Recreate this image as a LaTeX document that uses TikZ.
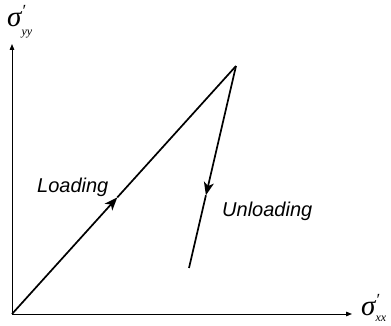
\documentclass[tikz,border=0pt]{standalone}
\usepackage{fontspec}
\setmainfont{Liberation Sans}
\newfontfamily\sigfont{Liberation Serif}
\usetikzlibrary{arrows.meta,calc}

\begin{document}
\begin{tikzpicture}[
  x=1pt, y=1pt,
  %% axis lines with small filled tips
  axis/.style={-{Triangle[length=6pt,width=4.6pt]}, line width=0.9pt},
  %% loading / unloading path, and the part that carries its head
  line/.style={line width=1.7pt},
  arr/.style={line, -{Stealth[length=13pt,width=10pt,inset=3.5pt]}},
  %% text labels
  lbl/.style={font=\fontsize{20}{20}\selectfont\itshape, inner sep=0pt, anchor=base west},
  sig/.style={font=\fontsize{29}{29}\sigfont\itshape, inner sep=0pt, anchor=base west},
]
\useasboundingbox (0,0) rectangle (391,326);

%%── Key points ───────────────────────────────────────────────────────────────
\coordinate (O)  at (12,12);
\coordinate (yt) at (12,282);
\coordinate (xt) at (352,12);
\coordinate (P)  at (236,260);
\coordinate (E)  at (189,58);
\coordinate (Lm) at ($(O)!0.47!(P)$);
\coordinate (Um) at ($(P)!0.64!(E)$);

%%── Axes ─────────────────────────────────────────────────────────────────────
\draw[axis] (O) -- (yt);
\draw[axis] (O) -- (xt);

\node[sig] (syy) at (7,299)
  {σ\rlap{\raisebox{0.36em}{\fontsize{17}{17}\selectfont ′}}%
   \raisebox{-0.28em}{\fontsize{12}{12}\selectfont yy}};
\node[sig] (sxx) at (361,10)
  {σ\rlap{\raisebox{0.36em}{\fontsize{17}{17}\selectfont ′}}%
   \raisebox{-0.18em}{\fontsize{12}{12}\selectfont xx}};

%%── Loading and unloading paths ──────────────────────────────────────────────
\draw[arr]  (O)  -- (Lm);
\draw[line] (Lm) -- (P);
\draw[arr]  (P)  -- (Um);
\draw[line] (Um) -- (E);

\node[lbl] (load)   at (37,133)  {Loading};
\node[lbl] (unload) at (222,109) {Unloading};

\end{tikzpicture}
\end{document}
